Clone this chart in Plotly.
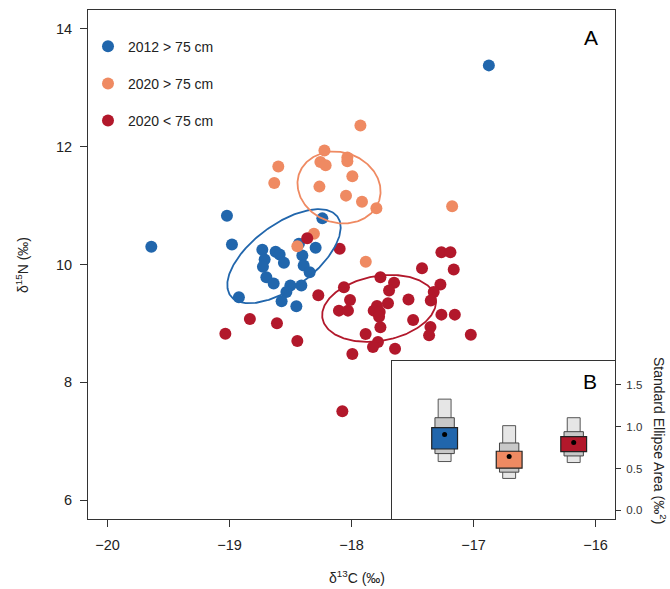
import numpy as np
import plotly.graph_objects as go

# ---------------- data ----------------
blue_x = [-19.641, -16.874, -19.021, -18.980, -18.731, -18.622, -18.589, -18.712,
          -18.726, -18.554, -18.403, -18.294, -18.431, -18.239, -18.392, -18.343,
          -18.698, -18.638, -18.501, -18.534, -18.411, -18.923, -18.573, -18.452]
blue_y = [10.30, 13.38, 10.829, 10.34, 10.25, 10.216, 10.17, 10.085,
          9.961, 10.03, 10.153, 10.284, 10.352, 10.783, 9.983, 9.869,
          9.784, 9.677, 9.643, 9.535, 9.643, 9.443, 9.375, 9.29]

orange_x = [-17.927, -18.222, -18.600, -18.633, -18.255, -18.212, -18.034, -18.034,
            -17.993, -18.263, -18.045, -17.914, -17.796, -17.175, -18.308, -18.444,
            -17.883]
orange_y = [12.36, 11.935, 11.663, 11.384, 11.741, 11.685, 11.816, 11.753,
            11.498, 11.322, 11.169, 11.067, 10.953, 10.99, 10.523, 10.31,
            10.046]

red_x = [-18.363, -18.097, -17.263, -17.189, -17.422, -17.162, -17.763, -17.651,
         -18.062, -17.692, -17.271, -17.326, -18.272, -18.012, -17.533, -17.350,
         -17.701, -17.791, -18.103, -18.029, -17.818, -17.769, -17.774, -17.495,
         -17.263, -17.153, -17.763, -17.353, -17.884, -17.364, -17.022, -17.783,
         -17.824, -17.643, -17.993, -18.833, -18.611, -19.034, -18.444, -18.075]
red_y = [10.446, 10.267, 10.209, 10.209, 9.937, 9.915, 9.784, 9.689,
         9.614, 9.557, 9.660, 9.535, 9.477, 9.399, 9.404, 9.387,
         9.341, 9.297, 9.217, 9.217, 9.217, 9.195, 9.115, 9.059,
         9.149, 9.149, 8.933, 8.940, 8.820, 8.797, 8.809, 8.684,
         8.599, 8.570, 8.480, 9.076, 9.001, 8.826, 8.701, 7.510]

group_names = ["2012 &gt; 75 cm", "2020 &gt; 75 cm", "2020 &lt; 75 cm"]
group_colors = ["#2166AC", "#EF8A62", "#B2182B"]

x_ticks = [-20, -19, -18, -17, -16]
x_ticklabels = ["\u221220", "\u221219", "\u221218", "\u221217", "\u221216"]
y_ticks = [6, 8, 10, 12, 14]

# Inset B: standard ellipse area posterior summaries
sea_pos = [1, 2, 3]
sea_mode = [0.905, 0.643, 0.810]
ci50_lo = [0.733, 0.504, 0.702]
ci50_hi = [0.988, 0.706, 0.881]
ci75_lo = [0.678, 0.456, 0.650]
ci75_hi = [1.107, 0.805, 0.940]
ci95_lo = [0.583, 0.381, 0.571]
ci95_hi = [1.329, 1.012, 1.107]
sea_ticks = [0.0, 0.5, 1.0, 1.5]
sea_ticklabels = ["0.0", "0.5", "1.0", "1.5"]


def std_ellipse(x, y, n=240):
    X = np.vstack([x, y])
    mu = X.mean(axis=1)
    S = np.cov(X)
    vals, vecs = np.linalg.eigh(S)
    t = np.linspace(0, 2 * np.pi, n)
    pts = mu[:, None] + vecs @ (np.sqrt(vals)[:, None] * np.vstack([np.cos(t), np.sin(t)]))
    return pts[0], pts[1]


FONT = "Arial, Liberation Sans, Helvetica, sans-serif"
fig = go.Figure()

groups = [(blue_x, blue_y), (orange_x, orange_y), (red_x, red_y)]
for (gx, gy), name, col in zip(groups, group_names, group_colors):
    fig.add_trace(go.Scatter(x=gx, y=gy, mode="markers", name=name,
                             legendgroup=name,
                             marker=dict(color=col, size=12, line=dict(width=0)),
                             xaxis="x", yaxis="y"))
for (gx, gy), name, col in zip(groups, group_names, group_colors):
    ex, ey = std_ellipse(np.array(gx), np.array(gy))
    fig.add_trace(go.Scatter(x=ex, y=ey, mode="lines", showlegend=False,
                             line=dict(color=col, width=1.8),
                             xaxis="x", yaxis="y", hoverinfo="skip"))

# Inset boxes
hi95 = [h - l for h, l in zip(ci95_hi, ci95_lo)]
hi75 = [h - l for h, l in zip(ci75_hi, ci75_lo)]
hi50 = [h - l for h, l in zip(ci50_hi, ci50_lo)]
fig.add_trace(go.Bar(x=sea_pos, y=hi95, base=ci95_lo, width=0.2,
                     marker=dict(color="#E6E6E6", line=dict(color="#555555", width=1)),
                     showlegend=False, xaxis="x2", yaxis="y2"))
fig.add_trace(go.Bar(x=sea_pos, y=hi75, base=ci75_lo, width=0.3,
                     marker=dict(color="#C8C8C8", line=dict(color="#444444", width=1)),
                     showlegend=False, xaxis="x2", yaxis="y2"))
fig.add_trace(go.Bar(x=sea_pos, y=hi50, base=ci50_lo, width=0.4,
                     marker=dict(color=group_colors, line=dict(color="#222222", width=1.2)),
                     showlegend=False, xaxis="x2", yaxis="y2"))
fig.add_trace(go.Scatter(x=sea_pos, y=sea_mode, mode="markers",
                         marker=dict(color="black", size=5),
                         showlegend=False, xaxis="x2", yaxis="y2"))

inset_x0 = (391.7 - 88) / 527
inset_y1 = (519 - 361) / 509

fig.update_layout(
    width=670, height=589,
    margin=dict(l=88, r=55, t=10, b=70),
    paper_bgcolor="white", plot_bgcolor="white",
    font=dict(family=FONT, color="#222222", size=14),
    barmode="overlay",
    xaxis=dict(domain=[0, 1], range=[-20.16, -15.84], tickvals=x_ticks,
               ticktext=x_ticklabels, ticks="outside", ticklen=7, tickcolor="#333",
               showline=True, mirror=True, linecolor="#333", linewidth=1,
               showgrid=False, zeroline=False, tickfont=dict(size=14.5),
               ticklabelstandoff=6),
    yaxis=dict(domain=[0, 1], range=[5.68, 14.32], tickvals=y_ticks,
               ticks="outside", ticklen=7, tickcolor="#333",
               showline=True, mirror=True, linecolor="#333", linewidth=1,
               showgrid=False, zeroline=False, tickfont=dict(size=14.5),
               ticklabelstandoff=5),
    xaxis2=dict(domain=[inset_x0, 1], range=[0.18, 3.64], anchor="y2",
                showticklabels=False, ticks="", showline=True, mirror=True,
                linecolor="#333", linewidth=1, showgrid=False, zeroline=False),
    yaxis2=dict(domain=[0, inset_y1], range=[-0.104, 1.785], anchor="x2", side="right",
                tickvals=sea_ticks, ticktext=sea_ticklabels, ticks="outside",
                ticklen=5, tickcolor="#333", showline=True, mirror=True,
                linecolor="#333", linewidth=1, showgrid=False, zeroline=False,
                tickfont=dict(size=11.5, color="#333"), ticklabelstandoff=3),
    legend=dict(x=0.0, y=0.9595, xanchor="left", yanchor="top",
                bgcolor="rgba(0,0,0,0)", borderwidth=0,
                font=dict(size=14, color="#222"), tracegroupgap=16,
                itemsizing="constant"),
    showlegend=True,
    annotations=[
        dict(text="\u03b4<sup>13</sup>C (\u2030)", xref="paper", yref="paper",
             x=(357 - 88) / 527, y=(519 - 577) / 509, showarrow=False,
             xanchor="center", yanchor="middle", font=dict(size=14)),
        dict(text="\u03b4<sup>15</sup>N (\u2030)", xref="paper", yref="paper",
             x=(22 - 88) / 527, y=(519 - 265) / 509, showarrow=False, textangle=-90,
             xanchor="center", yanchor="middle", font=dict(size=14)),
        dict(text="Standard Ellipse Area (\u2030<sup>2</sup>)", xref="paper", yref="paper",
             x=(660 - 88) / 527, y=(519 - 440) / 509, showarrow=False, textangle=90,
             xanchor="center", yanchor="middle", font=dict(size=14)),
        dict(text="A", xref="paper", yref="paper", x=(591 - 88) / 527,
             y=(519 - 37) / 509, showarrow=False, xanchor="center", yanchor="middle",
             font=dict(size=21, color="black")),
        dict(text="B", xref="paper", yref="paper", x=(590 - 88) / 527,
             y=(519 - 381) / 509, showarrow=False, xanchor="center", yanchor="middle",
             font=dict(size=21, color="black")),
    ],
)

fig.write_html("out.html", config={"displayModeBar": False},
               post_script="document.body.style.margin='0';")
